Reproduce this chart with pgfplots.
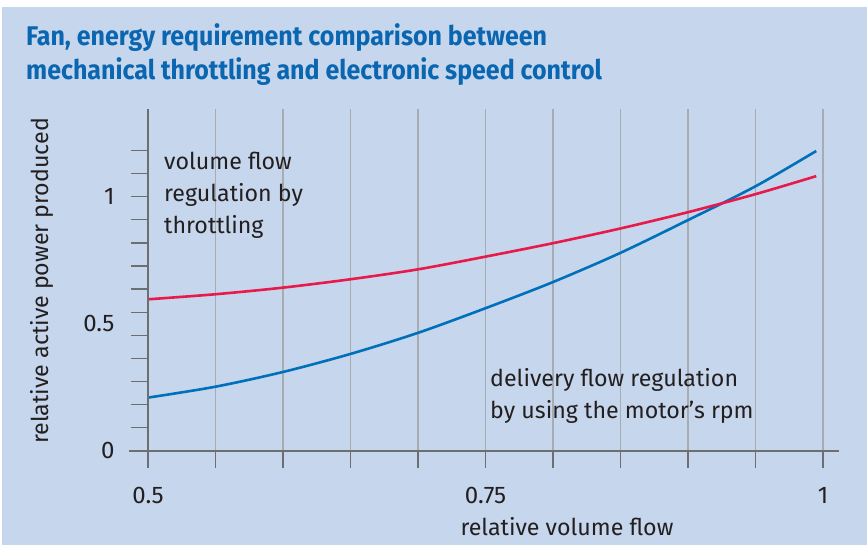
\documentclass[border=0pt]{standalone}
\usepackage{fontspec}
\setmainfont{Fira Sans}
\newfontfamily\titlefont[FakeStretch=0.925]{Fira Sans}
\usepackage{pgfplots}
\pgfplotsset{compat=1.18}

\definecolor{bgc}{HTML}{C6D6EC}
\definecolor{titleblue}{HTML}{0A66B0}
\definecolor{curvered}{HTML}{E8194B}
\definecolor{curveblue}{HTML}{0070BB}
\definecolor{axisgray}{HTML}{6E6E70}
\definecolor{gridgray}{HTML}{A7ABB2}
\definecolor{txt}{HTML}{231F20}

\newcommand\body{\fontsize{23.2bp}{31bp}\selectfont}

\begin{document}
\begin{tikzpicture}
\fill[white] (0,0) rectangle (867bp,545bp);
\fill[bgc] (2bp,0) rectangle (867bp,538bp);

\node[anchor=base west, inner sep=0, text=titleblue, font=\titlefont\bfseries\fontsize{27bp}{34bp}\selectfont]
  at (26bp,499.3bp) {Fan, energy requirement comparison between};
\node[anchor=base west, inner sep=0, text=titleblue, font=\titlefont\bfseries\fontsize{27bp}{34bp}\selectfont]
  at (26bp,465bp) {mechanical throttling and electronic speed control};

\begin{axis}[
  at={(148bp,94.3bp)}, anchor=south west,
  scale only axis, width=675bp, height=341.7bp,
  xmin=0.5, xmax=1, ymin=0, ymax=1.3453,
  axis x line=bottom, axis y line=left,
  axis line style={draw=none},
  xtick={0.5,0.55,0.6,0.65,0.7,0.75,0.8,0.85,0.9,0.95,1},
  xticklabels={0.5,,,,,0.75,,,,,1},
  xmajorgrids, major x grid style={gridgray, line width=1.2bp},
  tick align=outside, major tick length=17bp,
  tick style={draw=axisgray, line width=1.3bp},
  ytick={0,0.090909,0.181818,0.272727,0.363636,0.454545,0.545455,0.636364,0.727273,0.818182,0.909091,1,1.090909,1.181818},
  yticklabels={},
  extra y ticks={0,0.5,1},
  extra y tick labels={0,0.5,1},
  extra y tick style={major tick length=0pt, ymajorgrids=false},
  tick label style={font=\fontsize{24bp}{24bp}\selectfont, text=txt},
  xticklabel style={yshift=-16bp},
  yticklabel style={xshift=-30bp},
  xlabel={relative volume flow},
  ylabel={relative active power produced},
  label style={font=\body, text=txt},
  xlabel style={at={(axis description cs:0.6207,0)}, anchor=base, yshift=-84.3bp},
  ylabel style={at={(axis description cs:-0.1481,0.497)}, anchor=base},
  clip=false,
]
\addplot[curveblue, line width=2.6bp, smooth] coordinates {
  (0.5,0.209) (0.55,0.252) (0.6,0.310) (0.65,0.381) (0.7,0.464) (0.75,0.561)
  (0.8,0.664) (0.85,0.779) (0.9,0.908) (0.95,1.041) (0.995,1.180)};
\addplot[curvered, line width=2.6bp, smooth] coordinates {
  (0.5,0.596) (0.55,0.616) (0.6,0.642) (0.65,0.675) (0.7,0.714) (0.75,0.764)
  (0.8,0.817) (0.85,0.875) (0.9,0.939) (0.95,1.010) (0.995,1.081)};
\end{axis}

% axis lines, running past the plot area as in the original
\draw[axisgray, line width=1.8bp] (129bp,94.3bp) -- (839bp,94.3bp);
\draw[axisgray, line width=1.8bp] (148bp,78bp) -- (148bp,436bp);

\node[anchor=base west, inner sep=0, text=txt, font=\body] at (164bp,375.7bp) {volume flow};
\node[anchor=base west, inner sep=0, text=txt, font=\body] at (164bp,343.3bp) {regulation by};
\node[anchor=base west, inner sep=0, text=txt, font=\body] at (164bp,311.7bp) {throttling};
\node[anchor=base west, inner sep=0, text=txt, font=\body] at (490bp,158.3bp) {delivery flow regulation};
\node[anchor=base west, inner sep=0, text=txt, font=\body] at (490bp,126.7bp) {by using the motor’s rpm};
\end{tikzpicture}
\end{document}
